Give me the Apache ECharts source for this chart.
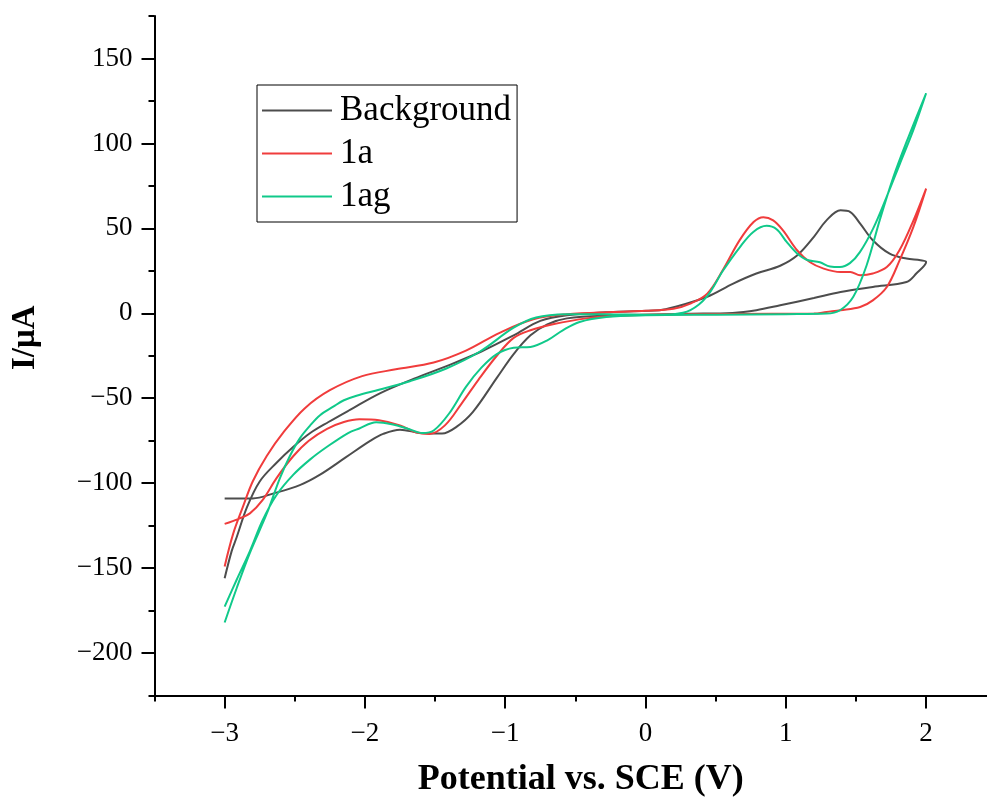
<!DOCTYPE html>
<html>
<head>
<meta charset="utf-8">
<script src="https://cdn.jsdelivr.net/npm/echarts@6/dist/echarts.min.js"></script>
<style>
html,body{margin:0;padding:0;background:#fff;}
#chart{width:987px;height:797px;}
</style>
</head>
<body>
<div id="chart"></div>
<script>
// ---- data (potential V, current µA), in scan order ----
const seriesNames = ['Background', '1a', '1ag'];

const bgX = [-3.00,-2.95,-2.915,-2.84,-2.75,-2.63,-2.51,-2.39,-2.26,-2.11,-1.89,-1.65,-1.40,-1.17,-0.94,-0.75,-0.56,-0.23,0.10,0.20,0.435,0.625,0.79,0.96,1.08,1.20,1.29,1.39,1.46,1.53,1.62,1.74,1.86,1.96,2.00,
  1.93,1.86,1.62,1.39,1.20,0.96,0.79,0.62,0.30,0.00,-0.23,-0.56,-0.70,-0.82,-0.94,-1.06,-1.23,-1.35,-1.45,-1.60,-1.75,-1.87,-1.96,-2.14,-2.32,-2.46,-2.65,-2.80,-3.00];
const bgY = [-156,-140,-132,-114,-99,-88,-78.6,-70.5,-64,-57,-47,-38.5,-30.5,-22.5,-13,-4.5,-1.2,0.8,1.8,3.5,9.6,17.5,23.4,28,34,45,54.7,60.6,59.6,52.8,43,35.1,32.2,31.2,30.2,
  23.4,18.4,15.5,12.5,9,4.7,1.8,0.2,-0.3,-0.8,-1.2,-3,-6.5,-13,-24,-38,-58,-67,-70.8,-70.5,-68.5,-71,-75,-85,-95,-101,-106,-109,-109];

const aX = [-3.00,-2.94,-2.87,-2.80,-2.70,-2.58,-2.43,-2.25,-2.02,-1.78,-1.51,-1.28,-1.04,-0.80,-0.56,-0.23,0.00,0.20,0.32,0.44,0.55,0.67,0.77,0.84,0.91,0.98,1.08,1.17,1.27,1.39,1.46,1.53,1.62,1.72,1.81,1.91,2.00,
  1.91,1.81,1.72,1.62,1.53,1.39,1.29,1.20,0.60,0.00,-0.20,-0.42,-0.66,-0.82,-0.94,-1.06,-1.19,-1.31,-1.43,-1.54,-1.64,-1.75,-1.90,-2.04,-2.15,-2.27,-2.40,-2.51,-2.63,-2.73,-2.82,-2.90,-3.00];
const aY = [-149,-130,-114,-99,-84,-70,-56,-45.3,-37,-33,-29,-22,-11.5,-3.5,-0.6,0.8,1.5,2.7,5.7,11.6,25.3,42.9,53.7,56.6,54.7,48.8,37.1,30.2,26.3,24.3,24.3,22.4,23.4,27.2,37.1,54.7,73.4,
  51,31,15.5,7.6,3.7,1.8,0.8,-0.2,-0.4,-0.8,-1.5,-3,-6.5,-10,-14.5,-25,-39,-53,-66,-71,-70,-66,-63,-62.4,-64,-68,-75,-84,-97,-110,-117.8,-121,-124];

const agX = [-3.00,-2.915,-2.82,-2.70,-2.606,-2.535,-2.463,-2.39,-2.32,-2.226,-2.15,-2.06,-1.90,-1.68,-1.42,-1.18,-0.94,-0.78,-0.56,-0.30,0.00,0.20,0.32,0.435,0.554,0.673,0.768,0.863,0.934,1.006,1.077,1.148,1.243,1.315,1.386,1.457,1.528,1.623,1.718,1.813,1.908,2.00,
  1.861,1.766,1.67,1.575,1.48,1.386,1.29,1.00,0.50,0.00,-0.28,-0.47,-0.59,-0.70,-0.82,-0.94,-1.06,-1.17,-1.28,-1.40,-1.51,-1.59,-1.70,-1.80,-1.92,-2.04,-2.12,-2.27,-2.39,-2.51,-2.63,-2.73,-2.82,-2.915,-3.00];
const agY = [-182,-162,-141,-118,-97,-84,-73.5,-66,-60,-55,-51.2,-48.5,-45,-40,-32.5,-22.5,-8.5,-2.5,-0.6,-0.5,-0.8,-0.5,1.8,9.6,25.3,39,47.9,51.5,49.5,42,35.5,31.5,30,27.5,27.2,29.5,36,50,68.4,88,107.6,129.5,
  101,80,55,28,9.6,1.8,-0.2,-0.5,-0.8,-1.2,-2.2,-5.1,-10,-15.9,-19.8,-20.3,-24,-32,-43.3,-59,-69,-70.5,-67.8,-65.5,-64.2,-67.8,-70.5,-78.6,-86,-95,-107,-122,-140,-157,-172.7];

const xMajorTicks = [-3, -2, -1, 0, 1, 2];
const xMinorTicks = [-3.5, -2.5, -1.5, -0.5, 0.5, 1.5];
const yMajorTicks = [-200, -150, -100, -50, 0, 50, 100, 150];
const yMinorTicks = [-225, -175, -125, -75, -25, 25, 75, 125, 175];

const colors = ['#4d4d4d', '#f03c3c', '#10c98a'];

// ---- chart ----
const zip = (xs, ys) => xs.map((x, i) => [x, ys[i]]);
const seriesData = [zip(bgX, bgY), zip(aX, aY), zip(agX, agY)];
const fmt = v => (v < 0 ? '\u2212' + Math.abs(v) : String(v));
const FONT = 'Liberation Serif';
const X_MIN = -3.5, X_MAX = 2.434;   // axis runs off the right edge of the picture

const chart = echarts.init(document.getElementById('chart'), null, {renderer: 'canvas'});

const axisLine = {show: true, onZero: false, lineStyle: {color: '#000', width: 2}};

chart.setOption({
  animation: false,
  backgroundColor: '#fff',
  grid: {left: 154.5, right: 0, top: 16, bottom: 101.5, containLabel: false, outerBoundsMode: 'none'},
  legend: {
    show: true,
    data: seriesNames,
    orient: 'vertical',
    left: 257, top: 85,
    padding: [8, 6, 8, 5],
    itemGap: 8,
    itemWidth: 70, itemHeight: 2,
    icon: 'rect',
    backgroundColor: '#fff',
    borderColor: '#000', borderWidth: 1,
    textStyle: {fontFamily: FONT, fontSize: 35, color: '#000', lineHeight: 35, padding: [0, 0, 0, 3]}
  },
  xAxis: [{
    type: 'value', min: X_MIN, max: X_MAX,
    name: 'Potential vs. SCE (V)', nameLocation: 'middle', nameGap: 66,
    nameTextStyle: {fontFamily: FONT, fontWeight: 'bold', fontSize: 36, color: '#000', padding: [0, 0, 0, 20]},
    axisLine: axisLine,
    axisTick: {show: true, inside: false, length: 13, lineStyle: {width: 2, color: '#000'}, customValues: xMajorTicks},
    axisLabel: {show: true, margin: 25, fontFamily: FONT, fontSize: 27, color: '#000', customValues: xMajorTicks, formatter: fmt},
    splitLine: {show: false}
  }, {
    type: 'value', min: X_MIN, max: X_MAX, position: 'bottom',
    axisLine: {show: false, onZero: false},
    axisTick: {show: true, length: 6, lineStyle: {width: 2, color: '#000'}, customValues: xMinorTicks},
    axisLabel: {show: false},
    splitLine: {show: false}
  }],
  yAxis: [{
    type: 'value', min: -225, max: 175,
    name: 'I/\u03bcA', nameLocation: 'middle', nameGap: 113, nameRotate: 90,
    nameTextStyle: {fontFamily: FONT, fontWeight: 'bold', fontSize: 33, color: '#000', padding: [0, 0, 0, 36]},
    axisLine: axisLine,
    axisTick: {show: true, length: 13, lineStyle: {width: 2, color: '#000'}, customValues: yMajorTicks},
    axisLabel: {show: true, margin: 22, fontFamily: FONT, fontSize: 27, color: '#000', customValues: yMajorTicks, formatter: fmt},
    splitLine: {show: false}
  }, {
    type: 'value', min: -225, max: 175, position: 'left',
    axisLine: {show: false, onZero: false},
    axisTick: {show: true, length: 6, lineStyle: {width: 2, color: '#000'}, customValues: yMinorTicks},
    axisLabel: {show: false},
    splitLine: {show: false}
  }],
  series: seriesNames.map((name, i) => ({
    name: name,
    type: 'line',
    xAxisIndex: 0, yAxisIndex: 0,
    data: seriesData[i],
    smooth: 0.35,
    symbol: 'none',
    showSymbol: false,
    clip: true,
    color: colors[i],
    lineStyle: {color: colors[i], width: 2}
  }))
});
</script>
</body>
</html>
